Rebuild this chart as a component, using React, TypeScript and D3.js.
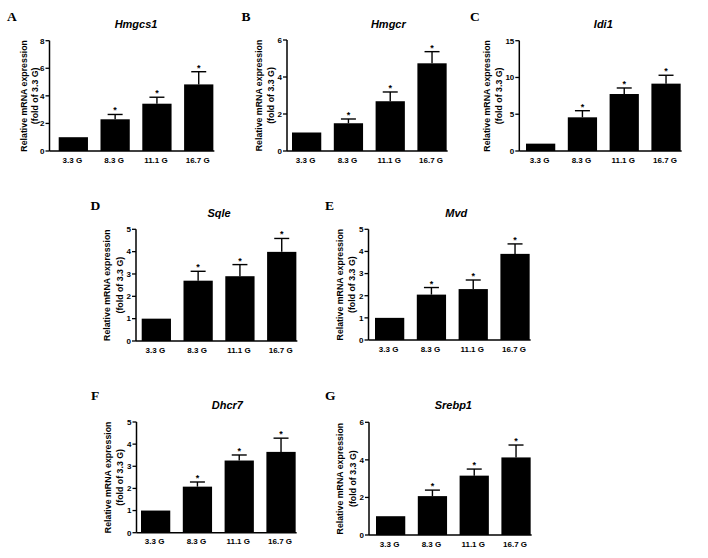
import React from "react";
import * as d3 from "d3";

const categories = ["3.3 G", "8.3 G", "11.1 G", "16.7 G"];
const panelLetters = ["A", "B", "C", "D", "E", "F", "G"];
const genes = ["Hmgcs1", "Hmgcr", "Idi1", "Sqle", "Mvd", "Dhcr7", "Srebp1"];
const yMaxes = [8, 6, 15, 5, 5, 5, 6];
const yStep = [2, 2, 5, 1, 1, 1, 2];

const meanHmgcs1 = [1, 2.3, 3.43, 4.83];
const errHmgcs1 = [0, 0.35, 0.47, 0.92];
const meanHmgcr = [1, 1.5, 2.69, 4.74];
const errHmgcr = [0, 0.23, 0.5, 0.63];
const meanIdi1 = [1, 4.58, 7.75, 9.16];
const errIdi1 = [0, 0.9, 0.82, 1.14];
const meanSqle = [1, 2.7, 2.9, 3.99];
const errSqle = [0, 0.42, 0.52, 0.6];
const meanMvd = [1, 2.05, 2.3, 3.89];
const errMvd = [0, 0.32, 0.41, 0.45];
const meanDhcr7 = [1, 2.08, 3.26, 3.65];
const errDhcr7 = [0, 0.21, 0.25, 0.62];
const meanSrebp1 = [1, 2.07, 3.16, 4.13];
const errSrebp1 = [0, 0.32, 0.35, 0.66];
const significant = [false, true, true, true];

const means = [meanHmgcs1, meanHmgcr, meanIdi1, meanSqle, meanMvd, meanDhcr7, meanSrebp1];
const errs = [errHmgcs1, errHmgcr, errIdi1, errSqle, errMvd, errDhcr7, errSrebp1];

// layout per panel
const layout = [
  { ax: 49.5, y0: 151, yTop: 40.7, barStart: 58.7, titleDx: 0, titleY: 28, lab2: -11.5, lab1: -23, letterX: 7, letterY: 20.5 },
  { ax: 287, y0: 151, yTop: 40, barStart: 292, titleDx: 19, titleY: 28, lab2: -13.2, lab1: -25.5, letterX: 241.5, letterY: 20.5 },
  { ax: 519.3, y0: 151, yTop: 40.7, barStart: 526, titleDx: 0, titleY: 28, lab2: -17.5, lab1: -29.5, letterX: 470, letterY: 20.5 },
  { ax: 136, y0: 341, yTop: 229.3, barStart: 141.7, titleDx: 0, titleY: 216.5, lab2: -13.2, lab1: -25.7, letterX: 90.5, letterY: 210 },
  { ax: 368.5, y0: 340, yTop: 229.3, barStart: 375, titleDx: 4, titleY: 216.5, lab2: -13.2, lab1: -25.7, letterX: 325, letterY: 210 },
  { ax: 136.5, y0: 532.7, yTop: 422, barStart: 141, titleDx: 9, titleY: 409, lab2: -13.2, lab1: -25.7, letterX: 91, letterY: 399.5 },
  { ax: 369, y0: 535, yTop: 422.3, barStart: 376, titleDx: 0, titleY: 409, lab2: -13.2, lab1: -25.7, letterX: 325, letterY: 399.5 },
];

const STEP = 41.8;
const SANS = "'Liberation Sans', Arial, sans-serif";
const SERIF = "'Liberation Serif', 'Times New Roman', serif";

function Panel({ i }: { i: number }) {
  const L = layout[i];
  const po = 0.15;
  const r0 = L.barStart - STEP * po;
  const x = d3
    .scaleBand<string>()
    .domain(categories)
    .range([r0, r0 + STEP * 4])
    .paddingInner(0.3)
    .paddingOuter(po);
  const y = d3.scaleLinear().domain([0, yMaxes[i]]).range([L.y0, L.yTop]);
  const ticks = d3.range(0, yMaxes[i] + 1e-9, yStep[i]);
  const bw = x.bandwidth();
  const lastRight = (x(categories[3]) as number) + bw;
  const centerX = (L.barStart + lastRight) / 2;
  const midY = (L.y0 + L.yTop) / 2;
  const capW = 15;
  return (
    <g>
      <text x={L.letterX} y={L.letterY} fontFamily={SERIF} fontWeight="bold" fontSize={13.5}>
        {panelLetters[i]}
      </text>
      <text x={centerX + L.titleDx} y={L.titleY} textAnchor="middle" fontFamily={SANS} fontWeight="bold" fontStyle="italic" fontSize={11}>
        {genes[i]}
      </text>
      {categories.map((c, k) => {
        const bx = x(c) as number;
        const m = means[i][k];
        const e = errs[i][k];
        const cx = bx + bw / 2;
        return (
          <g key={c}>
            <rect x={bx} y={y(m)} width={bw} height={L.y0 - y(m)} fill="#000" />
            {e > 0 && (
              <g stroke="#000" strokeWidth={1.4}>
                <line x1={cx} x2={cx} y1={y(m)} y2={y(m + e)} />
                <line x1={cx - capW / 2} x2={cx + capW / 2} y1={y(m + e)} y2={y(m + e)} />
              </g>
            )}
            {significant[k] && (
              <text x={cx} y={y(m + e) - 1} textAnchor="middle" fontFamily={SANS} fontWeight="bold" fontSize={9}>
                *
              </text>
            )}
            <text x={cx - 1} y={L.y0 + 11.5} textAnchor="middle" fontFamily={SANS} fontWeight="bold" fontSize={8}>
              {c}
            </text>
          </g>
        );
      })}
      <line x1={L.ax} x2={L.ax} y1={L.yTop} y2={L.y0} stroke="#000" strokeWidth={1.5} />
      <line x1={L.ax} x2={lastRight + 1} y1={L.y0} y2={L.y0} stroke="#000" strokeWidth={1.5} />
      {ticks.map((t) => (
        <g key={t}>
          <line x1={L.ax - 4} x2={L.ax} y1={y(t)} y2={y(t)} stroke="#000" strokeWidth={1.3} />
          <text x={L.ax - 5} y={y(t) + 2.8} textAnchor="end" fontFamily={SANS} fontWeight="bold" fontSize={8}>
            {t}
          </text>
        </g>
      ))}
      <text transform={`translate(${L.ax + L.lab1},${midY}) rotate(-90)`} textAnchor="middle" fontFamily={SANS} fontWeight="bold" fontSize={8.8}>
        Relative mRNA expression
      </text>
      <text transform={`translate(${L.ax + L.lab2},${midY}) rotate(-90)`} textAnchor="middle" fontFamily={SANS} fontWeight="bold" fontSize={8.8}>
        (fold of 3.3 G)
      </text>
    </g>
  );
}

export default function App() {
  return (
    <svg width={708} height={558} style={{ position: "absolute", left: 0, top: 0, background: "#fff" }}>
      <rect width={708} height={558} fill="#fff" />
      {genes.map((g, i) => (
        <Panel key={g} i={i} />
      ))}
    </svg>
  );
}
